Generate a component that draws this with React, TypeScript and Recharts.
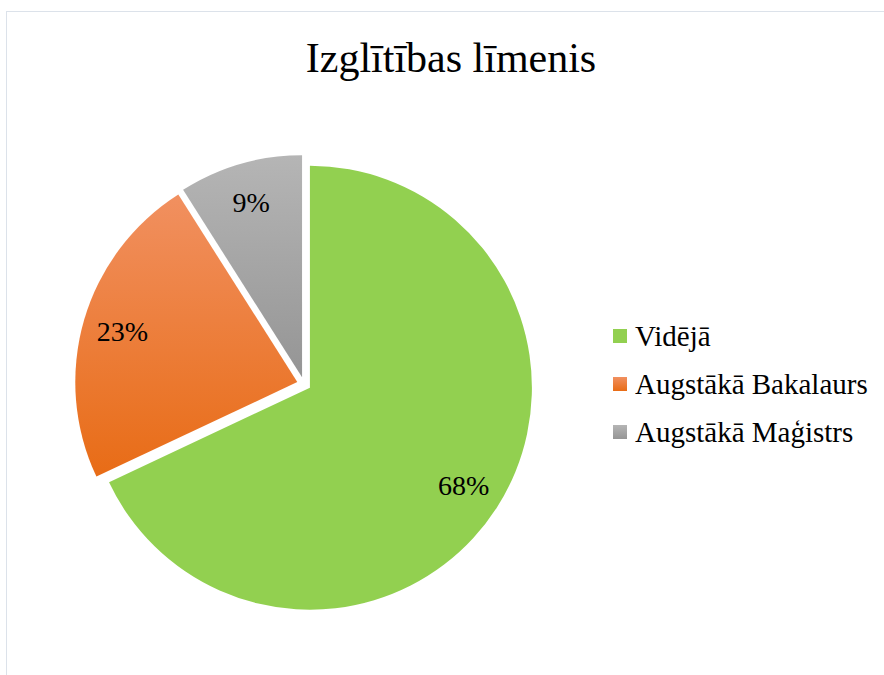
import React from 'react';
import { PieChart, Pie, Cell, Legend } from 'recharts';

const title = 'Izglītības līmenis';
const categories = ['Vidējā', 'Augstākā Bakalaurs', 'Augstākā Maģistrs'];
const values = [68, 23, 9];

const GRADIENTS = [
  { id: 'gSlice0', top: '#92D050', bottom: '#92D050' },
  { id: 'gSlice1', top: '#F19060', bottom: '#E86C16' },
  { id: 'gSlice2', top: '#B5B5B5', bottom: '#959595' },
];

const FONT = "'Liberation Serif', 'Times New Roman', serif";
const CX = 304;
const CY = 384;
const R = 222;
const EXPLODE = 7;
const START = 90;
const RAD = Math.PI / 180;

const data = categories.map((name, i) => ({ name, value: values[i] }));
const total = values.reduce((a, b) => a + b, 0);
let acc = 0;
const mids = values.map((v) => {
  const m = START - ((acc + v / 2) / total) * 360;
  acc += v;
  return m;
});

const makeLabel = (own: number) => (props: any) => {
  if (props.index !== own) return null;
  const r = props.outerRadius * 0.82;
  const x = props.cx + r * Math.cos(-props.midAngle * RAD);
  const y = props.cy + r * Math.sin(-props.midAngle * RAD);
  return (
    <text
      x={x}
      y={y}
      textAnchor="middle"
      dominantBaseline="central"
      fontFamily={FONT}
      fontSize={28}
      fill="#000"
    >
      {`${Math.round(props.percent * 100)}%`}
    </text>
  );
};

const LegendContent = () => (
  <div style={{ fontFamily: FONT, fontSize: 29, color: '#000' }}>
    {categories.map((c, i) => (
      <div
        key={c}
        style={{ display: 'flex', alignItems: 'center', height: 48, whiteSpace: 'nowrap' }}
      >
        <span
          style={{
            display: 'inline-block',
            width: 14,
            height: 14,
            marginRight: 8,
            background: `linear-gradient(${GRADIENTS[i].top}, ${GRADIENTS[i].bottom})`,
          }}
        />
        <span>{c}</span>
      </div>
    ))}
  </div>
);

export default function App() {
  return (
    <div style={{ position: 'absolute', left: 0, top: 0, width: 884, height: 675, overflow: 'hidden', background: '#fff' }}>
      <div
        style={{
          position: 'absolute',
          left: 6,
          top: 11,
          width: 878,
          height: 664,
          borderTop: '1px solid #dce2ea',
          borderLeft: '1px solid #dce2ea',
          boxSizing: 'border-box',
        }}
      />
      <div
        style={{
          position: 'absolute',
          left: 151,
          width: 600,
          top: 37,
          textAlign: 'center',
          fontFamily: FONT,
          fontSize: 42,
          lineHeight: '42px',
          color: '#000',
          whiteSpace: 'nowrap',
        }}
      >
        {title}
      </div>
      <PieChart
        width={884}
        height={675}
        margin={{ top: 0, right: 0, bottom: 0, left: 0 }}
        style={{ position: 'absolute', left: 0, top: 0 }}
      >
        <defs>
          {GRADIENTS.map((g) => (
            <linearGradient key={g.id} id={g.id} x1="0" y1="0" x2="0" y2="1">
              <stop offset="0%" stopColor={g.top} />
              <stop offset="100%" stopColor={g.bottom} />
            </linearGradient>
          ))}
        </defs>
        {values.map((_, i) => (
          <Pie
            key={`pie-${i}`}
            data={data}
            dataKey="value"
            nameKey="name"
            cx={CX + EXPLODE * Math.cos(mids[i] * RAD)}
            cy={CY - EXPLODE * Math.sin(mids[i] * RAD)}
            innerRadius={0}
            outerRadius={R}
            startAngle={START}
            endAngle={START - 360}
            stroke="none"
            legendType="none"
            labelLine={false}
            label={makeLabel(i)}
            isAnimationActive={false}
          >
            {data.map((d, j) => (
              <Cell key={d.name} fill={j === i ? `url(#${GRADIENTS[j].id})` : 'transparent'} />
            ))}
          </Pie>
        ))}
        <Legend
          content={<LegendContent />}
          wrapperStyle={{ position: 'absolute', left: 613, top: 312, width: 270 }}
        />
      </PieChart>
    </div>
  );
}
